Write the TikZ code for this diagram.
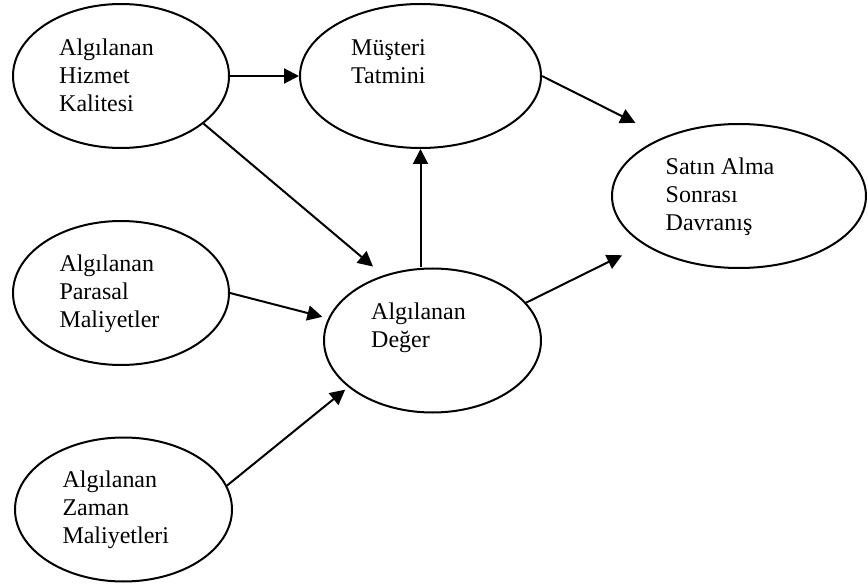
\documentclass[tikz,border=0pt]{standalone}
\usepackage{fontspec}
\setmainfont{Liberation Serif}
\usetikzlibrary{shapes.geometric,arrows.meta}
\begin{document}
\begin{tikzpicture}[x=1pt,y=-1pt,
  oval/.style={draw, ellipse, line width=2pt, inner sep=0pt, minimum height=144pt},
  lbl/.style={anchor=base west, align=left, inner sep=0pt,
    font=\fontsize{24pt}{28pt}\selectfont},
  link/.style={line width=2pt, -{Triangle[length=15pt,width=15pt]}}]
\useasboundingbox (0,0) rectangle (868,588);

% ellipses
\node[oval, minimum width=216pt] (e1) at (121,76) {};
\node[oval, minimum width=241pt] (e2) at (420.5,76) {};
\node[oval, minimum width=254pt] (e3) at (739,196) {};
\node[oval, minimum width=216pt] (e4) at (121,293) {};
\node[oval, minimum width=217pt] (e5) at (432.5,340.5) {};
\node[oval, minimum width=217pt] (e6) at (123.5,509.5) {};

% labels (anchored at the baseline of their last line)
\node[lbl] (t1) at (59,111.5) {Algılanan\\Hizmet\\Kalitesi};
\node[lbl] (t2) at (351,83.5) {Müşteri\\Tatmini};
\node[lbl] (t3) at (665.5,231) {Satın Alma\\Sonrası\\Davranış};
\node[lbl] (t4) at (59.3,327) {Algılanan\\Parasal\\Maliyetler};
\node[lbl] (t5) at (371,347.3) {Algılanan\\Değer};
\node[lbl] (t6) at (62.3,543.3) {Algılanan\\Zaman\\Maliyetleri};

% connectors
\draw[link] (e1.east) -- (e2.west);
\draw[link, shorten >=13.5pt] (e1.-30) -- (e5.127.7);
\draw[link] (e5.north -| e2.south) -- (e2.south);
\draw[link, shorten >=31.5pt] (e2.east) -- (e3.142.6);
\draw[link, shorten >=24pt] (e5.22) -- (e3.207.1);
\draw[link, shorten >=6pt] (e4.east) -- (e5.168);
\draw[link, shorten >=4pt] (e6.13.1) -- (e5.209.7);
\end{tikzpicture}
\end{document}
